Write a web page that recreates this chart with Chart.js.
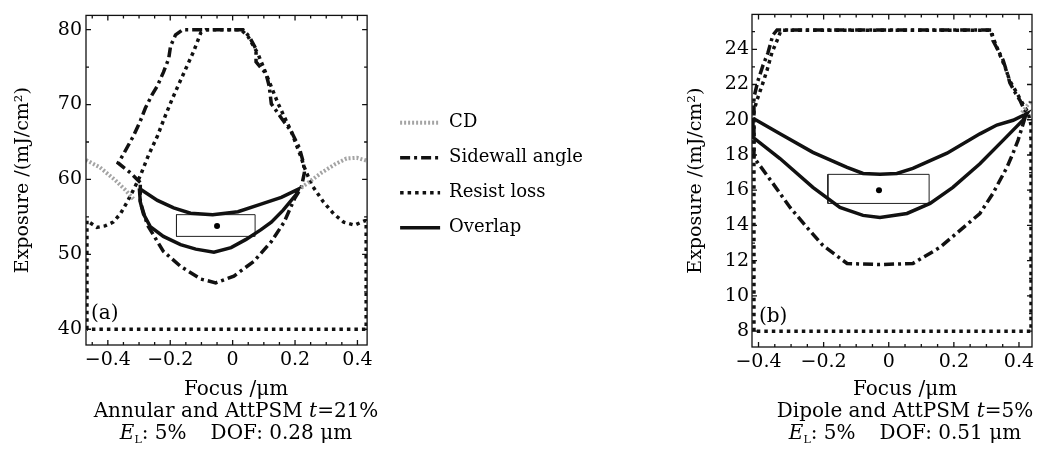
<!DOCTYPE html>
<html>
<head>
<meta charset="utf-8">
<script src="https://cdn.jsdelivr.net/npm/chart.js@4.4.1/dist/chart.umd.min.js"></script>
<style>
  body { margin: 0; background: #fff; overflow: hidden; }
  #wrap { position: relative; width: 1045px; height: 452px; font-family: 'DejaVu Serif', serif; color: #000; }
  .box { position: absolute; top: 0; height: 452px; }
  .cap { position: absolute; text-align: center; font-size: 20px; line-height: 22px; white-space: nowrap; }
  .tag { position: absolute; font-size: 20px; line-height: 24px; }
  sub { font-size: 11px; font-style: normal; vertical-align: -4px; }
</style>
</head>
<body>
<div id="wrap">
  <div class="box" style="left:0;width:680px"><canvas id="chartA"></canvas></div>
  <div class="box" style="left:680px;width:365px"><canvas id="chartB"></canvas></div>
  <div class="tag" style="left:91px;top:300px">(a)</div>
  <div class="tag" style="left:759px;top:303px">(b)</div>
  <div class="cap" style="left:36px;width:400px;top:377px">
    Focus /μm<br>Annular and AttPSM <i>t</i>=21%<br><i>E</i><sub>L</sub>: 5%<span style="margin-left:24px">DOF: 0.28 μm</span>
  </div>
  <div class="cap" style="left:740px;width:330px;top:377px">
    Focus /μm<br>Dipole and AttPSM <i>t</i>=5%<br><i>E</i><sub>L</sub>: 5%<span style="margin-left:24px">DOF: 0.51 μm</span>
  </div>
</div>
<script>
// ---- (a) Annular and AttPSM t=21% ----
var cdFocusA = [-0.470, -0.425, -0.376, -0.344, -0.318, -0.100, 0.220, 0.253, 0.285, 0.327, 0.365, 0.398, 0.430];
var cdExpA   = [62.6, 61.6, 59.9, 58.6, 57.4, null, 58.9, 59.9, 60.9, 62.0, 62.8, 62.9, 62.5];

var swFocusA = [-0.296, -0.328, -0.367, -0.351, -0.318, -0.296, -0.280, -0.257, -0.241, -0.222, -0.205, -0.199, -0.183, -0.160,
                0.033, 0.053, 0.075, 0.075, 0.107, 0.117, 0.124, 0.156, 0.188, 0.214, 0.227, 0.230, 0.220, 0.198, 0.165,
                0.124, 0.069, 0.004, -0.054, -0.102, -0.167, -0.222, -0.273, -0.296, -0.296];
var swExpA   = [59.6, 60.9, 62.2, 63.3, 65.8, 67.8, 69.5, 71.4, 72.5, 74.3, 76.1, 77.8, 79.3, 80,
                80, 79.1, 77.4, 75.7, 74.1, 72.5, 70.1, 68.2, 66.4, 64.2, 62.2, 60.9, 58.9, 57.4, 54.3,
                51.7, 49.1, 47.1, 46.2, 46.7, 48.4, 50.4, 53.9, 57.0, 59.6];

var rlFocusA = [-0.467, -0.467, -0.435, -0.409, -0.383, -0.360, -0.338, -0.318, -0.296, -0.270, -0.241, -0.215, -0.193, -0.176,
                -0.151, -0.125, -0.102, -0.086, 0.027, 0.049, 0.082, 0.114, 0.146, 0.188, 0.220, 0.230, 0.253, 0.291,
                0.324, 0.356, 0.391, 0.424, 0.428, 0.428, -0.467];
var rlExpA   = [40, 54.5, 53.6, 53.8, 54.3, 55.4, 57.0, 58.6, 60.5, 63.2, 65.8, 68.6, 70.8, 72.4,
                74.7, 77.1, 79.6, 80, 80, 79.1, 76.7, 73.4, 70.1, 66.4, 62.9, 61.6, 59.3, 57.0,
                55.4, 54.3, 53.9, 54.5, 54.5, 40, 40];

var ovFocusA = [-0.299, -0.241, -0.189, -0.135, -0.064, 0.017, 0.091, 0.156, 0.211, 0.204, 0.162, 0.124,
                0.091, 0.043, -0.005, -0.060, -0.118, -0.167, -0.222, -0.264, -0.286, -0.296, -0.299];
var ovExpA   = [58.8, 57.2, 56.2, 55.5, 55.3, 55.7, 56.7, 57.6, 58.7, 58.0, 55.9, 54.3,
                53.3, 52.0, 50.9, 50.3, 50.7, 51.3, 52.4, 53.7, 55.4, 57.0, 58.8];

var winFocusA = [-0.180, 0.072, 0.072, -0.180, -0.180];
var winExpA   = [52.4, 52.4, 55.3, 55.3, 52.4];
var optFocusA = [-0.050];
var optExpA   = [53.8];

// ---- (b) Dipole and AttPSM t=5% ----
var cdFocusB = [0.409, 0.425, 0.440];
var cdExpB   = [20.4, 20.8, 21.1];

var swFocusB = [-0.414, -0.414, -0.402, -0.386, -0.371, -0.356, -0.343, 0.317, 0.320, 0.336, 0.351, 0.363, 0.372, 0.388,
                0.403, 0.418, 0.418, 0.397, 0.379, 0.363, 0.320, 0.280, 0.219, 0.157, 0.074, -0.027, -0.128,
                -0.202, -0.251, -0.303, -0.356, -0.414];
var swExpB   = [17.86, 21.27, 22.2, 23.1, 23.8, 24.8, 25.1, 25.1, 24.5, 23.94, 23.4, 22.7, 22.1, 21.55,
                21.1, 20.5, 20.08, 18.83, 17.98, 17.3, 15.82, 14.68, 13.72, 12.75, 11.84, 11.78, 11.84,
                12.86, 13.89, 15.02, 16.39, 17.86];

var rlFocusB = [-0.414, -0.414, -0.405, -0.389, -0.374, -0.359, -0.343, -0.331, 0.311, 0.326, 0.342, 0.357,
                0.372, 0.394, 0.412, 0.428, 0.437, 0.437, -0.414];
var rlExpB   = [8, 20.5, 21.1, 21.95, 22.8, 23.8, 24.5, 25.08, 25.08, 24.4, 23.66, 23.0,
                22.2, 21.5, 20.9, 20.4, 19.7, 8, 8];

var ovFocusB = [-0.417, -0.334, -0.233, -0.128, -0.079, -0.027, 0.025, 0.074, 0.179, 0.280, 0.332, 0.382, 0.425,
                0.412, 0.351, 0.280, 0.197, 0.127, 0.056, -0.027, -0.079, -0.150, -0.233, -0.334, -0.417, -0.417];
var ovExpB   = [20.08, 19.2, 18.15, 17.3, 16.95, 16.9, 16.95, 17.24, 18.1, 19.2, 19.7, 19.97, 20.36,
                19.97, 18.83, 17.5, 16.16, 15.25, 14.68, 14.45, 14.57, 15.02, 16.16, 17.8, 19.0, 20.08];

var winFocusB = [-0.187, 0.124, 0.124, -0.187, -0.187];
var winExpB   = [15.25, 15.25, 16.9, 16.9, 15.25];
var optFocusB = [-0.030];
var optExpB   = [16.0];

var seriesNames = ['CD', 'Sidewall angle', 'Resist loss', 'Overlap'];

Chart.defaults.font.family = "'DejaVu Serif', serif";
Chart.defaults.color = '#000';

function pts(xs, ys) {
  var out = [];
  for (var i = 0; i < xs.length; i++) out.push({x: xs[i], y: ys[i]});
  return out;
}

// frame round the plot with inward tick marks
var framePlugin = {
  id: 'frame',
  afterDatasetsDraw: function(chart, args, opts) {
    var ctx = chart.ctx, a = chart.chartArea;
    ctx.save();
    ctx.strokeStyle = '#111';
    ctx.lineWidth = 1.3;
    ctx.strokeRect(a.left, a.top, a.right - a.left, a.bottom - a.top);
    function marks(scale, step, major, draw) {
      scale.ticks.forEach(function(t) {
        var q = t.value / step;
        if (Math.abs(q - Math.round(q)) > 1e-6) return;
        var m = t.value / major;
        var len = Math.abs(m - Math.round(m)) < 1e-6 ? 5 : 3;
        draw(scale.getPixelForValue(t.value), len);
      });
    }
    ctx.beginPath();
    marks(chart.scales.x, opts.xStep, opts.xMajor, function(p, l) {
      ctx.moveTo(p, a.bottom); ctx.lineTo(p, a.bottom - l);
      ctx.moveTo(p, a.top); ctx.lineTo(p, a.top + l);
    });
    marks(chart.scales.y, opts.yStep, opts.yMajor, function(p, l) {
      ctx.moveTo(a.left, p); ctx.lineTo(a.left + l, p);
      ctx.moveTo(a.right, p); ctx.lineTo(a.right - l, p);
    });
    ctx.stroke();
    ctx.restore();
  }
};

// nudge the legend up a little
var legendShift = {
  id: 'legendShift',
  afterLayout: function(chart) {
    if (chart.legend && chart.options.plugins.legend.display !== false) {
      chart.legend.top -= 5;
      chart.legend.bottom -= 5;
    }
  }
};

function makeSets(cd, sw, rl, ov, win, opt) {
  return [
    { label: seriesNames[0], data: cd, showLine: true, pointRadius: 0, borderColor: '#a4a4a4', borderWidth: 4, borderDash: [2, 2], spanGaps: false },
    { label: seriesNames[1], data: sw, showLine: true, pointRadius: 0, borderColor: '#111', borderWidth: 3.5, borderDash: [10, 4, 3, 4] },
    { label: seriesNames[2], data: rl, showLine: true, pointRadius: 0, borderColor: '#111', borderWidth: 3.5, borderDash: [3.5, 4] },
    { label: seriesNames[3], data: ov, showLine: true, pointRadius: 0, borderColor: '#111', borderWidth: 3.5 },
    { label: '', data: win, showLine: true, pointRadius: 0, borderColor: '#222', borderWidth: 1 },
    { label: '', data: opt, showLine: false, pointRadius: 3, backgroundColor: '#000', borderWidth: 0 }
  ];
}

function fmtFocus(v) {
  var r = Math.round(v * 100);
  if (r % 20 !== 0 || Math.abs(v * 100 - r) > 1e-6) return '';
  if (r === 0) return '0';
  return (r < 0 ? '\u2212' : '') + (Math.abs(r) / 100).toFixed(1);
}

function makeScales(xMin, xMax, yMin, yMax, yStep, yMajor, yW, xH) {
  return {
    x: {
      type: 'linear', min: xMin, max: xMax,
      grid: { display: false, drawTicks: false }, border: { display: false },
      ticks: { stepSize: 0.05, includeBounds: false, autoSkip: false, maxRotation: 0, padding: 4,
               font: { size: 19 }, callback: fmtFocus },
      afterFit: function(s) { s.height = xH; }
    },
    y: {
      type: 'linear', min: yMin, max: yMax,
      grid: { display: false, drawTicks: false }, border: { display: false },
      ticks: { stepSize: yStep, includeBounds: false, autoSkip: false, padding: 4, font: { size: 19 },
        callback: function(v) {
          var r = Math.round(v);
          return (Math.abs(v - r) < 1e-6 && r % yMajor === 0) ? String(r) : '';
        } },
      title: { display: true, text: 'Exposure /(mJ/cm\u00b2)', font: { size: 19 }, padding: { top: 0, bottom: 0 } },
      afterFit: function(s) { s.width = yW; }
    }
  };
}

// legend entries take the dash pattern of their dataset
function legendLabels(chart) {
  var items = Chart.defaults.plugins.legend.labels.generateLabels(chart);
  items.forEach(function(it) {
    var ds = chart.data.datasets[it.datasetIndex];
    it.lineDash = ds.borderDash || [];
    it.lineWidth = ds.borderWidth;
    it.strokeStyle = ds.borderColor;
    it.lineCap = 'butt';
    it.pointStyle = 'line';
  });
  return items.filter(function(it) { return it.text !== ''; });
}

// left chart with the shared legend
var scalesA = makeScales(-0.47, 0.431, 37.9, 81.9, 5, 10, 86, 107);
scalesA.y.title.padding = { top: 12, bottom: 0 };
scalesA.y2 = {
  type: 'linear', position: 'right', display: true,
  grid: { display: false, drawTicks: false }, border: { display: false }, ticks: { display: false },
  afterFit: function(s) { s.width = 16; }
};

new Chart(document.getElementById('chartA'), {
  type: 'scatter',
  data: { datasets: makeSets(pts(cdFocusA, cdExpA), pts(swFocusA, swExpA), pts(rlFocusA, rlExpA),
                             pts(ovFocusA, ovExpA), pts(winFocusA, winExpA), pts(optFocusA, optExpA)) },
  options: {
    responsive: true, maintainAspectRatio: false, animation: false,
    layout: { padding: { left: 0, top: 10, right: 87, bottom: 0 } },
    scales: scalesA,
    plugins: {
      tooltip: { enabled: false },
      frame: { xStep: 0.05, xMajor: 0.2, yStep: 5, yMajor: 10 },
      legend: {
        position: 'right', align: 'center', maxWidth: 320, fullSize: false,
        labels: {
          usePointStyle: true, pointStyle: 'line', pointStyleWidth: 40, padding: 17,
          color: '#000', font: { size: 18 },
          generateLabels: legendLabels
        }
      }
    }
  },
  plugins: [framePlugin, legendShift]
});

// right chart
var scalesB = makeScales(-0.42, 0.44, 7.1, 25.98, 1, 2, 72, 105);
scalesB.y.title.padding = { top: 5, bottom: 0 };
scalesB.y.ticks.padding = 3;

new Chart(document.getElementById('chartB'), {
  type: 'scatter',
  data: { datasets: makeSets(pts(cdFocusB, cdExpB), pts(swFocusB, swExpB), pts(rlFocusB, rlExpB),
                             pts(ovFocusB, ovExpB), pts(winFocusB, winExpB), pts(optFocusB, optExpB)) },
  options: {
    responsive: true, maintainAspectRatio: false, animation: false,
    layout: { padding: { left: 0, top: 13, right: 13, bottom: 0 } },
    scales: scalesB,
    plugins: {
      tooltip: { enabled: false },
      legend: { display: false },
      frame: { xStep: 0.05, xMajor: 0.2, yStep: 1, yMajor: 2 }
    }
  },
  plugins: [framePlugin]
});
</script>
</body>
</html>
